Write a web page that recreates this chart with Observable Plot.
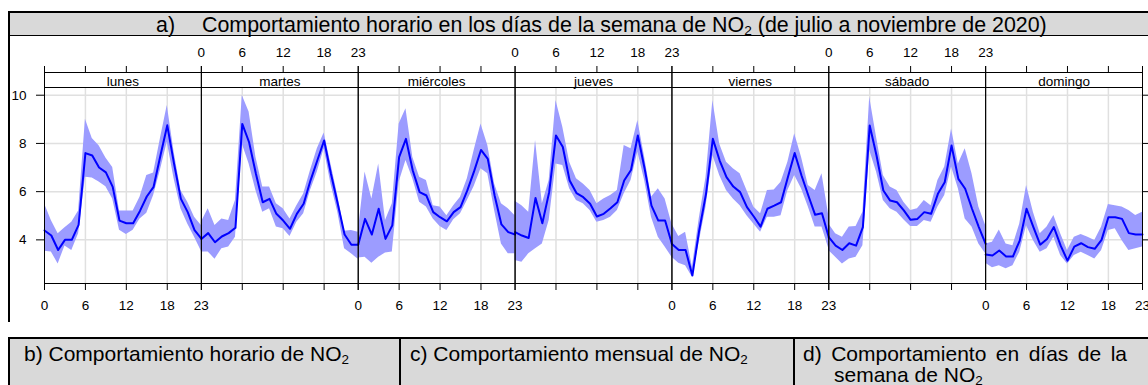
<!DOCTYPE html>
<html lang="es">
<head>
<meta charset="utf-8">
<script src="https://cdn.jsdelivr.net/npm/d3@7"></script>
<script src="https://cdn.jsdelivr.net/npm/@observablehq/plot@0.6"></script>
<style>
  html, body { margin: 0; padding: 0; background: #fff; }
  body {
    width: 1148px; height: 385px; overflow: hidden; position: relative;
    font-family: "Liberation Sans", Arial, sans-serif; color: #000;
  }
  .barra { position: absolute; background: #d9d9d9; box-sizing: border-box; }
  #titulo {
    left: 8px; top: 11px; width: 1140px; height: 25px;
    border-top: 2px solid #000; border-left: 2px solid #000; border-bottom: 1px solid #000;
  }
  #pie {
    left: 8px; top: 337px; width: 1140px; height: 48px;
    border-top: 2px solid #000; border-left: 2px solid #000;
  }
  .t { position: absolute; font-size: 21.4px; white-space: nowrap; line-height: normal; }
  .c { position: absolute; font-size: 21px; line-height: 21px; }
  sub { font-size: 0.64em; vertical-align: baseline; position: relative; top: 0.22em; }
  .sep { position: absolute; top: 339px; width: 2px; height: 46px; background: #000; }
  #borde { position: absolute; left: 8px; top: 36px; width: 2px; height: 286px; background: #000; }
  #grafico { position: absolute; left: 0; top: 36px; }
</style>
</head>
<body>
<div id="titulo" class="barra"></div>
<div class="t" style="left:156px; top:13px;">a)</div>
<div class="t" style="left:202px; top:13px;">Comportamiento horario en los días de la semana de NO<sub>2</sub> (de julio a noviembre de 2020)</div>

<div id="borde"></div>
<div id="grafico"></div>

<div id="pie" class="barra"></div>
<div class="sep" style="left:399px;"></div>
<div class="sep" style="left:793px;"></div>
<div class="c" style="left:24px; top:343px; white-space:nowrap;">b) Comportamiento horario de NO<sub>2</sub></div>
<div class="c" style="left:410px; top:343px; white-space:nowrap;">c) Comportamiento mensual de NO<sub>2</sub></div>
<div class="c" style="left:803px; top:343px; width:293px; padding-left:31px; text-indent:-31px; text-align:justify;">d) Comportamiento en días de la semana de NO<sub>2</sub></div>

<script>
// Días de la semana (paneles) y horas del día
const dias = ["lunes", "martes", "miércoles", "jueves", "viernes", "sábado", "domingo"];
const horas = [0, 1, 2, 3, 4, 5, 6, 7, 8, 9, 10, 11, 12, 13, 14, 15, 16, 17, 18, 19, 20, 21, 22, 23];
const marcasHora = [0, 6, 12, 18, 23];
const marcasNO2 = [4, 6, 8, 10];

// NO2 medio por hora y su intervalo (inferior / superior) para cada día
const lunesMedia = [4.39, 4.18, 3.58, 4.0, 4.0, 4.62, 7.6, 7.5, 7.0, 6.8, 6.2, 4.8, 4.69, 4.69, 5.2, 5.8, 6.2, 7.5, 8.75, 7.15, 5.7, 5.15, 4.4, 4.05];
const lunesInf   = [3.53, 3.5, 3.0, 3.75, 3.56, 4.25, 6.6, 6.57, 6.4, 6.2, 5.7, 4.4, 4.22, 4.4, 4.87, 5.1, 5.84, 6.9, 8.05, 6.53, 5.29, 4.66, 4.11, 3.53];
const lunesSup   = [5.5, 4.8, 4.25, 4.5, 4.73, 5.2, 9.0, 8.2, 7.9, 7.4, 7.0, 5.2, 5.2, 5.2, 5.77, 6.67, 6.77, 8.2, 9.57, 7.64, 6.05, 5.56, 4.94, 4.6];

const martesMedia = [4.04, 4.28, 3.9, 4.14, 4.28, 4.5, 8.81, 8.05, 6.74, 5.56, 5.7, 5.08, 4.8, 4.46, 5.08, 5.5, 6.46, 7.29, 8.12, 6.74, 5.5, 4.22, 3.8, 3.8];
const martesInf   = [3.5, 3.5, 3.2, 3.63, 3.7, 4.11, 7.98, 7.15, 6.05, 5.15, 5.29, 4.53, 4.46, 4.14, 4.73, 5.08, 6.05, 6.81, 7.78, 6.32, 5.15, 3.63, 3.42, 3.2];
const martesSup   = [4.73, 5.29, 4.6, 4.87, 4.8, 5.63, 9.99, 9.3, 7.43, 6.19, 6.19, 5.5, 5.29, 4.87, 5.42, 5.9, 6.88, 7.78, 8.43, 7.15, 5.84, 4.36, 4.39, 4.32];

const miercolesMedia = [3.8, 4.87, 4.22, 5.29, 4.04, 4.6, 7.43, 8.19, 6.88, 5.98, 5.84, 5.15, 4.94, 4.77, 5.15, 5.36, 6.05, 6.85, 7.73, 7.36, 5.84, 4.64, 4.32, 4.22];
const miercolesInf   = [3.25, 3.28, 3.03, 3.28, 3.45, 3.5, 6.39, 7.29, 6.53, 5.56, 5.36, 4.87, 4.55, 4.39, 4.83, 5.08, 5.63, 6.21, 6.95, 6.74, 5.22, 3.83, 3.42, 3.42];
const miercolesSup   = [4.32, 6.81, 5.7, 7.15, 4.8, 5.5, 8.81, 9.44, 7.43, 6.6, 6.46, 5.42, 5.36, 5.0, 5.42, 5.77, 6.53, 7.71, 8.81, 7.91, 6.32, 5.5, 5.29, 5.0];

const juevesMedia = [4.32, 4.18, 4.08, 5.74, 4.69, 5.98, 8.33, 7.85, 6.46, 5.94, 5.77, 5.5, 4.97, 5.08, 5.31, 5.56, 6.46, 6.9, 8.33, 6.95, 5.42, 4.8, 4.8, 3.83];
const juevesInf   = [3.14, 3.07, 3.42, 3.63, 3.83, 4.8, 7.15, 7.08, 6.12, 5.63, 5.5, 5.22, 4.73, 4.8, 4.94, 5.22, 5.91, 6.46, 7.64, 6.46, 4.94, 4.11, 3.7, 3.28];
const juevesSup   = [5.6, 5.42, 5.15, 8.12, 5.5, 6.46, 9.78, 8.67, 7.22, 6.53, 6.32, 6.05, 5.5, 5.7, 5.84, 6.05, 7.91, 7.78, 8.95, 7.43, 5.77, 6.12, 5.7, 4.66];

const viernesMedia = [3.83, 3.58, 3.58, 2.52, 4.39, 5.91, 8.19, 7.29, 6.6, 6.21, 5.98, 5.36, 4.97, 4.55, 5.29, 5.42, 5.56, 6.6, 7.6, 6.67, 5.84, 5.04, 5.1, 4.11];
const viernesInf   = [3.28, 3.03, 2.93, 2.45, 3.9, 5.36, 7.5, 6.67, 6.05, 5.7, 5.42, 5.0, 4.66, 4.32, 4.94, 4.94, 5.0, 6.05, 6.67, 6.12, 5.36, 4.53, 4.53, 3.63];
const viernesSup   = [4.66, 4.14, 4.32, 2.87, 4.87, 6.6, 9.78, 7.98, 7.22, 6.95, 6.74, 6.05, 5.36, 5.08, 6.05, 6.07, 6.39, 7.22, 8.4, 7.43, 6.25, 6.05, 6.74, 5.0];

const sabadoMedia = [4.11, 3.76, 3.58, 3.86, 3.76, 4.53, 8.74, 7.5, 6.05, 5.63, 5.56, 5.22, 4.83, 4.87, 5.15, 5.08, 5.91, 6.39, 7.91, 6.53, 6.12, 5.29, 4.53, 3.83];
const sabadoInf   = [3.56, 3.28, 3.0, 3.21, 3.28, 3.76, 7.71, 6.81, 5.63, 5.29, 5.15, 4.83, 4.55, 4.55, 4.8, 4.73, 5.36, 5.84, 7.02, 6.12, 4.87, 4.53, 3.83, 3.42];
const sabadoSup   = [4.66, 4.25, 4.11, 4.53, 4.55, 5.15, 9.92, 8.26, 6.67, 6.19, 6.05, 5.56, 5.22, 5.29, 5.63, 5.42, 6.46, 7.02, 8.6, 7.15, 7.78, 6.74, 5.36, 4.6];

const domingoMedia = [3.39, 3.35, 3.56, 3.31, 3.31, 3.97, 5.29, 4.53, 3.8, 4.04, 4.53, 3.76, 3.14, 3.72, 3.86, 3.7, 3.63, 4.0, 4.94, 4.94, 4.87, 4.28, 4.22, 4.22];
const domingoInf   = [3.03, 2.84, 2.93, 2.8, 2.93, 3.49, 4.59, 3.97, 3.49, 3.63, 4.11, 3.35, 3.0, 3.35, 3.49, 3.35, 3.21, 3.56, 4.39, 4.46, 3.97, 3.56, 3.63, 3.7];
const domingoSup   = [3.83, 3.9, 4.41, 3.83, 3.76, 4.66, 6.25, 5.15, 4.25, 4.53, 5.01, 4.25, 3.56, 4.11, 4.22, 4.11, 3.97, 4.53, 5.47, 5.42, 5.36, 5.22, 5.01, 5.15];

const medias = [lunesMedia, martesMedia, miercolesMedia, juevesMedia, viernesMedia, sabadoMedia, domingoMedia];
const inferiores = [lunesInf, martesInf, miercolesInf, juevesInf, viernesInf, sabadoInf, domingoInf];
const superiores = [lunesSup, martesSup, miercolesSup, juevesSup, viernesSup, sabadoSup, domingoSup];

// Tabla larga: una fila por día y hora
const filas = dias.flatMap((dia, i) =>
  horas.map((hora, j) => ({dia, hora, media: medias[i][j], inf: inferiores[i][j], sup: superiores[i][j]}))
);

// Las etiquetas de hora alternan: abajo en los paneles impares, arriba en los pares
const etiquetasAbajo = dias.filter((d, i) => i % 2 === 0).flatMap(dia => marcasHora.map(hora => ({dia, hora})));
const etiquetasArriba = dias.filter((d, i) => i % 2 === 1).flatMap(dia => marcasHora.map(hora => ({dia, hora})));

const alto = 302, margenSup = 51, margenInf = 55;
const altoPanel = alto - margenSup - margenInf;
const altoFranja = 15;

const chart = Plot.plot({
  width: 1148,
  height: alto,
  marginLeft: 44,
  marginRight: 6,
  marginTop: margenSup,
  marginBottom: margenInf,
  style: {
    fontFamily: '"Liberation Sans", Arial, sans-serif',
    fontSize: "13.5px",
    color: "#000",
    background: "transparent",
    overflow: "visible"
  },
  fx: {domain: dias, padding: 0, round: false, axis: null},
  x: {domain: [0, 23]},
  y: {domain: [2.19, 10.32]},
  marks: [
    Plot.gridX({ticks: [6, 12, 18], stroke: "#e0e0e0", strokeOpacity: 1, strokeWidth: 1.5}),
    Plot.gridY({ticks: marcasNO2, stroke: "#e0e0e0", strokeOpacity: 1, strokeWidth: 1.5}),
    Plot.areaY(filas, {fx: "dia", x: "hora", y1: "inf", y2: "sup", fill: "#9c9cff"}),
    Plot.lineY(filas, {fx: "dia", x: "hora", y: "media", stroke: "#0000ff", strokeWidth: 2}),
    Plot.frame({stroke: "#000"}),
    // franja con el nombre del día sobre cada panel
    Plot.frame({stroke: "#000", insetTop: -altoFranja, insetBottom: altoPanel}),
    Plot.text(dias, {fx: d => d, text: d => d, frameAnchor: "top", lineAnchor: "bottom", dy: -1.5}),
    Plot.axisX({anchor: "top", ticks: marcasHora, tickSize: 7, tickFormat: () => "", dy: -altoFranja, label: null}),
    Plot.axisX({anchor: "bottom", ticks: marcasHora, tickSize: 7, tickFormat: () => "", label: null}),
    Plot.axisY({anchor: "left", ticks: marcasNO2, tickSize: 8, tickPadding: 10, label: null}),
    Plot.axisY({anchor: "right", ticks: marcasNO2, tickSize: 6, tickFormat: () => "", label: null}),
    Plot.text(etiquetasArriba, {fx: "dia", x: "hora", text: d => String(d.hora), frameAnchor: "top", lineAnchor: "middle", dy: -34.5}),
    Plot.text(etiquetasAbajo, {fx: "dia", x: "hora", text: d => String(d.hora), frameAnchor: "bottom", lineAnchor: "middle", dy: 22})
  ]
});

document.getElementById("grafico").append(chart);
</script>
</body>
</html>
